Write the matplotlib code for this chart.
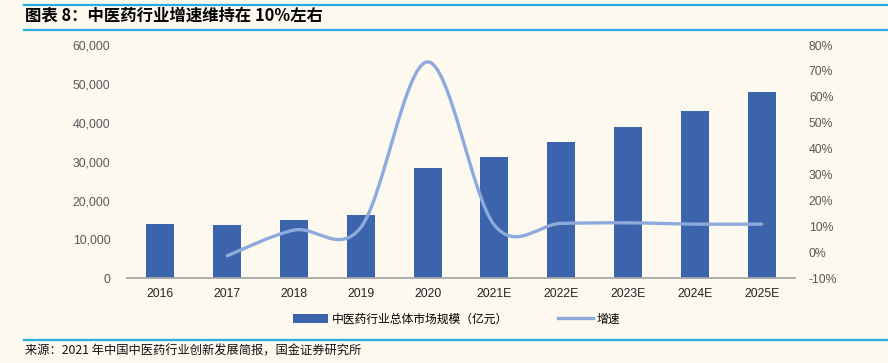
import numpy as np
import matplotlib.pyplot as plt
from matplotlib.path import Path
from matplotlib.patches import PathPatch, Patch
from matplotlib.lines import Line2D
from matplotlib.ticker import FuncFormatter

plt.rcParams['font.family'] = ['Liberation Sans', 'Noto Sans CJK SC', 'DejaVu Sans']

years = ['2016', '2017', '2018', '2019', '2020', '2021E', '2022E', '2023E', '2024E', '2025E']
market_size = [14000, 13800, 15000, 16400, 28300, 31300, 35000, 39000, 43100, 48000]
growth_years = years[1:]
growth = [-1.3, 8.6, 9.6, 73.5, 10.5, 11.2, 11.4, 10.9, 10.9]

bg = '#FDF9EF'
bar_color = '#3B64AD'
line_color = '#8EA9DB'
rule_color = '#2EA8E2'

fig = plt.figure(figsize=(8.88, 3.63), dpi=100, facecolor=bg)
ax = fig.add_axes([127 / 888, 1 - 278.3 / 363, 668 / 888, 233.3 / 363])
ax.set_facecolor(bg)

x = np.arange(len(years))
ax.bar(x, market_size, width=0.42, color=bar_color, zorder=2)
ax.set_xlim(-0.5, len(years) - 0.5)
ax.set_ylim(0, 60000)
ax.set_yticks(np.arange(0, 60001, 10000))
ax.yaxis.set_major_formatter(FuncFormatter(lambda v, p: f'{int(v):,}'))
ax.set_xticks(x)
ax.set_xticklabels(years)
for s in ['top', 'right', 'left']:
    ax.spines[s].set_visible(False)
ax.spines['bottom'].set_color('#A6A6A6')
ax.spines['bottom'].set_linewidth(1.3)
ax.tick_params(axis='both', length=0, labelsize=8.8)
ax.tick_params(axis='y', colors='#595959', pad=12)
ax.tick_params(axis='x', colors='#222222', pad=7)

# growth line on right axis, smoothed like the spreadsheet curve
ax2 = ax.twinx()
ax2.set_ylim(-10, 80)
ax2.set_yticks(np.arange(-10, 81, 10))
ax2.yaxis.set_major_formatter(FuncFormatter(lambda v, p: f'{int(v)}%'))
for s in ax2.spines.values():
    s.set_visible(False)
ax2.tick_params(axis='y', length=0, labelsize=8.8, colors='#595959', pad=10)

gx = np.array([years.index(y) for y in growth_years], dtype=float)
gy = np.array(growth, dtype=float)
pts = np.column_stack([gx, gy])
verts = [pts[0]]
codes = [Path.MOVETO]
n = len(pts)
for i in range(n - 1):
    p0 = pts[max(i - 1, 0)]
    p1 = pts[i]
    p2 = pts[i + 1]
    p3 = pts[min(i + 2, n - 1)]
    c1 = p1 + (p2 - p0) / 6
    c2 = p2 - (p3 - p1) / 6
    verts += [c1, c2, p2]
    codes += [Path.CURVE4] * 3
ax2.add_patch(PathPatch(Path(verts, codes), facecolor='none', edgecolor=line_color,
                        lw=2.4, capstyle='round', zorder=3))

# legend
handles = [Patch(facecolor=bar_color, edgecolor='none'),
           Line2D([0], [0], color=line_color, lw=2.4)]
fig.legend(handles, ['中医药行业总体市场规模（亿元）', '增速'],
           loc='center', bbox_to_anchor=(0.514, 1 - 319 / 363), ncol=2,
           frameon=False, handlelength=3.0, handleheight=0.8,
           columnspacing=4.2, handletextpad=0.3,
           prop={'family': ['Noto Sans CJK SC'], 'size': 8.5})

# header / footer rules and text
for yy in [1 - 4.5 / 363, 1 - 30 / 363, 1 - 340 / 363]:
    fig.add_artist(Line2D([24 / 888, 1], [yy, yy], color=rule_color, lw=1.6))
fig.text(25 / 888, 1 - 15 / 363, '图表 8：中医药行业增速维持在 10%左右', fontsize=11.8,
         fontweight='bold', style='italic', va='center', ha='left',
         family=['Noto Sans CJK SC', 'DejaVu Sans'])
fig.text(25 / 888, 1 - 351 / 363, '来源：2021 年中国中医药行业创新发展简报，国金证券研究所',
         fontsize=8.8, va='center', ha='left', color='#111111',
         family=['Noto Sans CJK SC', 'DejaVu Sans'])

fig.savefig('out.png', dpi=100, facecolor=bg)
